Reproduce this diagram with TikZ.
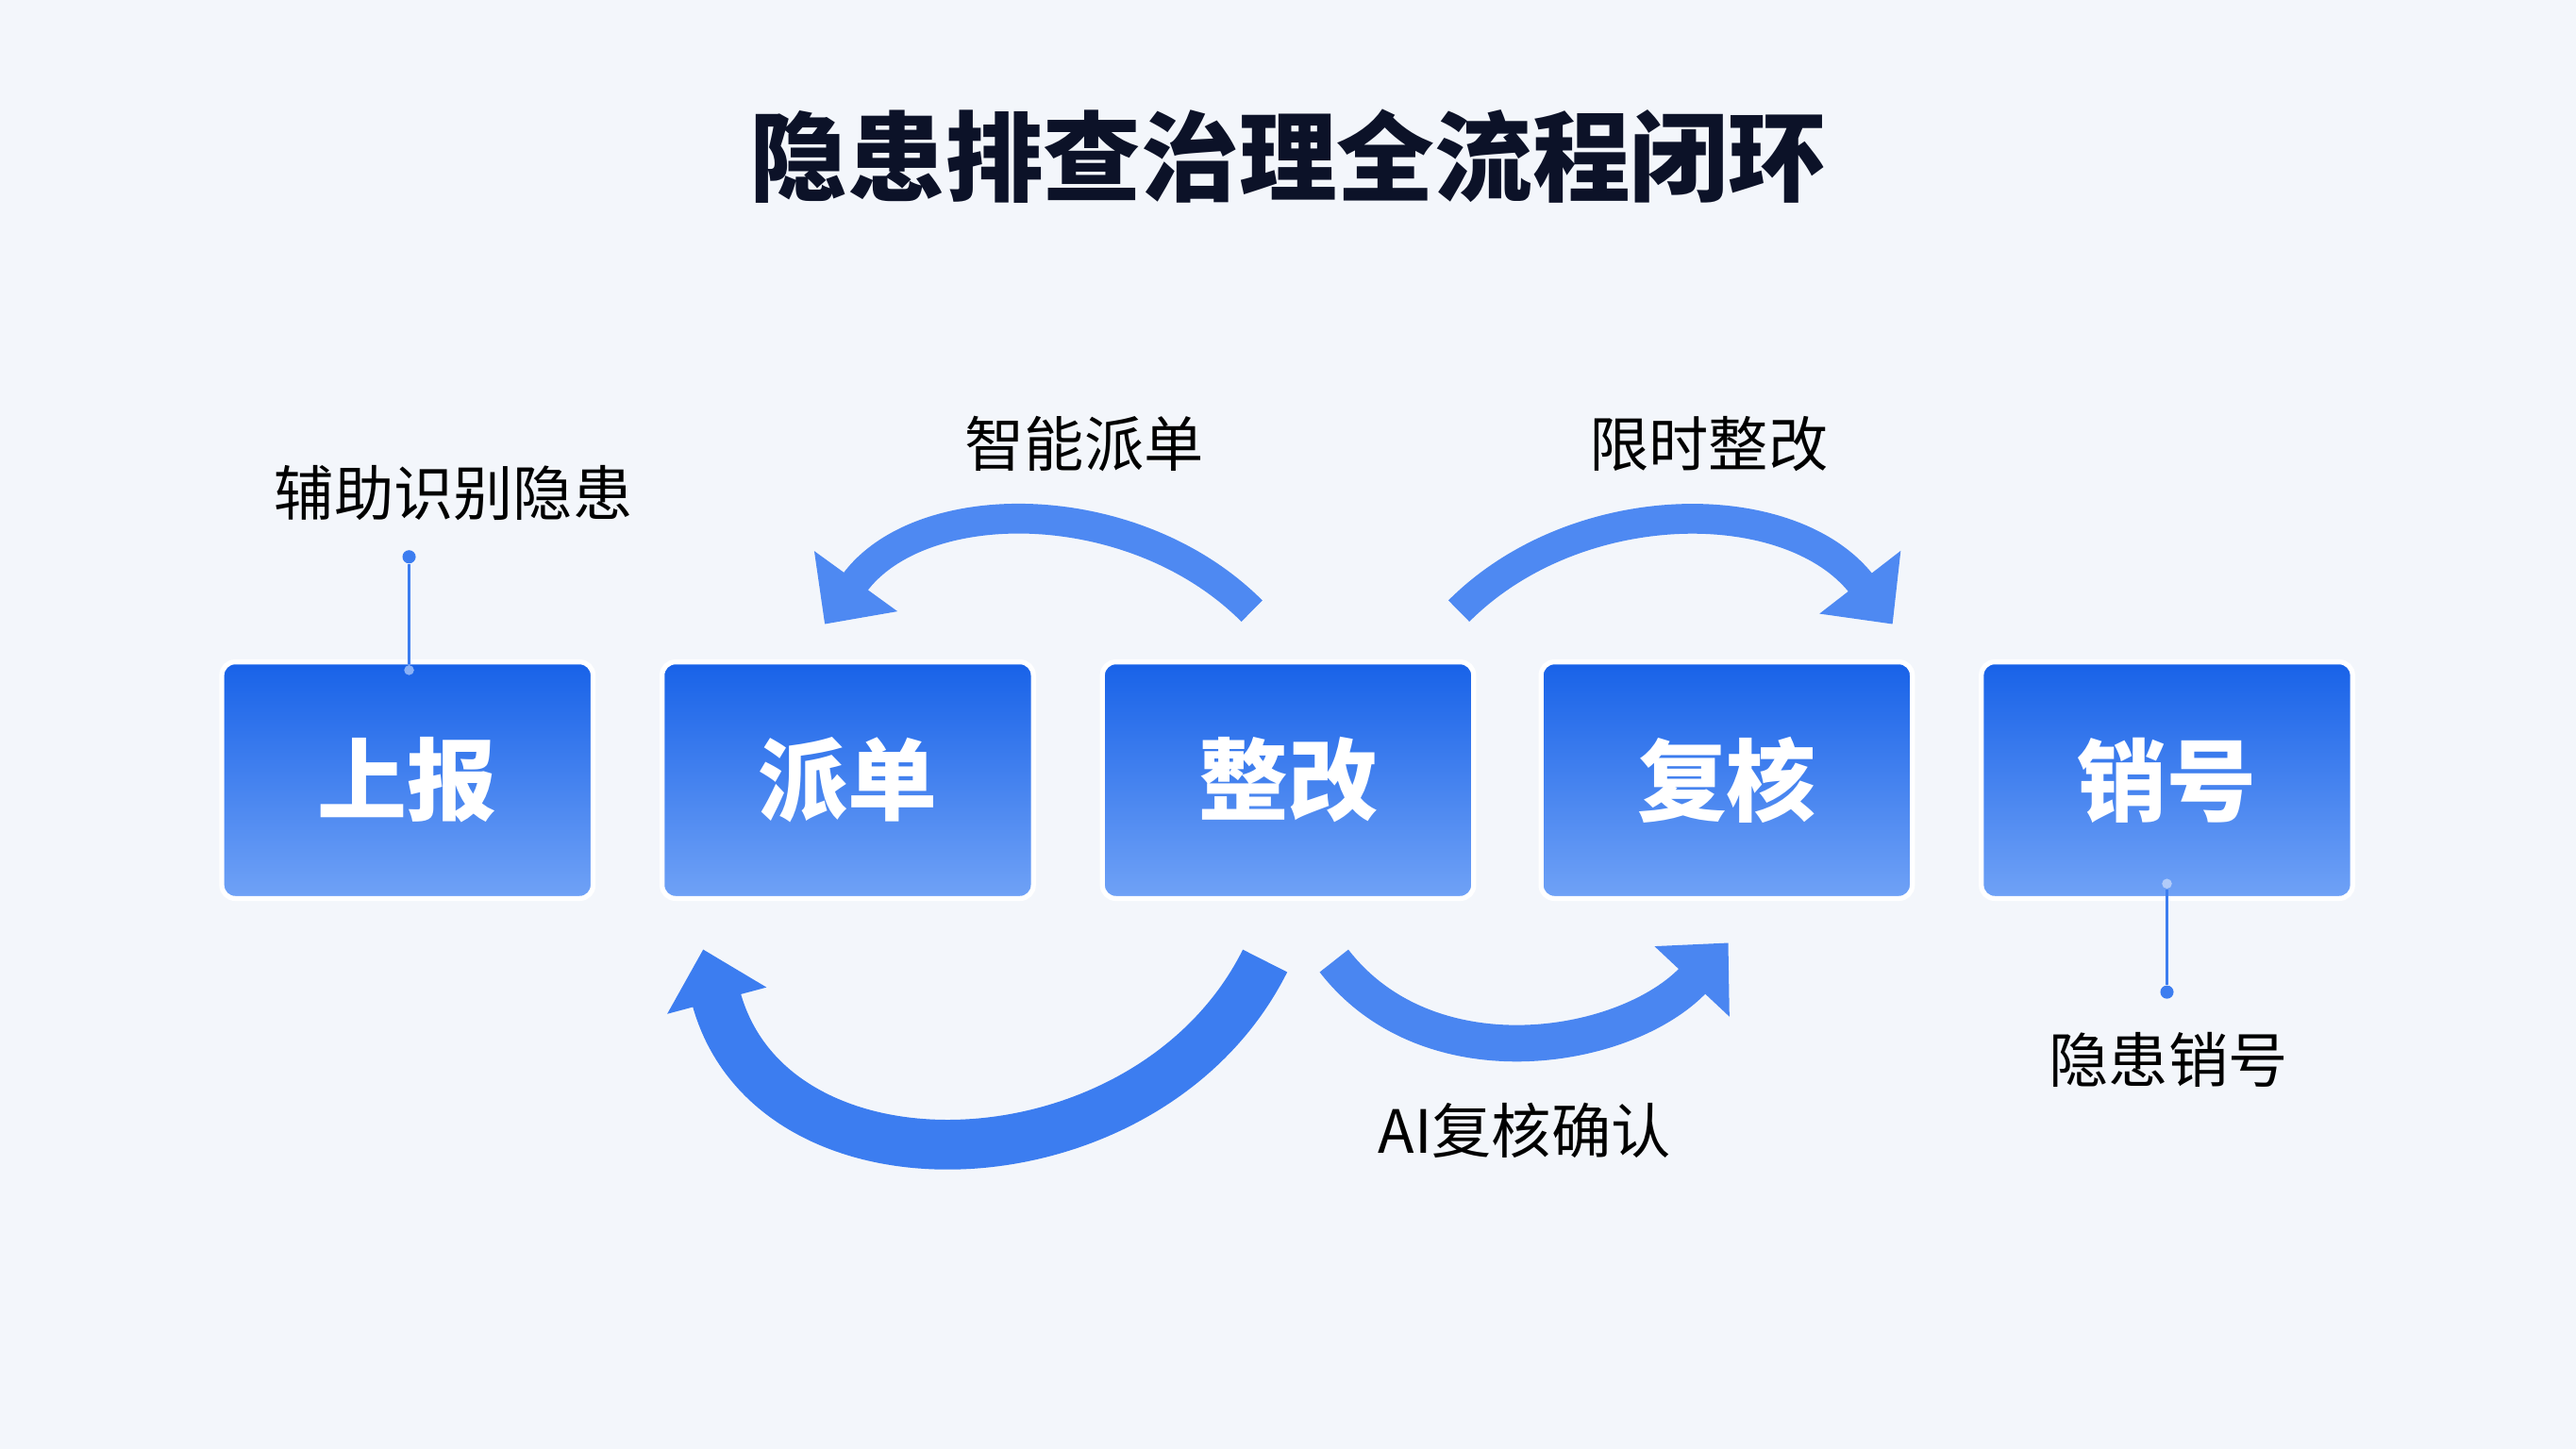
\documentclass[tikz,border=0pt]{standalone}
\usepackage{fontspec}
\setmainfont{Noto Sans CJK SC}
\usetikzlibrary{arrows.meta}
\definecolor{bg}{RGB}{243,246,251}
\definecolor{btop}{RGB}{24,98,232}
\definecolor{bbot}{RGB}{112,162,246}
\definecolor{arr}{RGB}{60,125,240}
\definecolor{arrl}{RGB}{150,185,248}
\definecolor{ttl}{RGB}{12,18,40}
\tikzset{
  box/.style={draw=white, line width=1.5pt, rounded corners=4pt, minimum width=226*0.01741cm, minimum height=144*0.01741cm, top color=btop, bottom color=bbot, text=white, font=\fontsize{27}{30}\selectfont\bfseries, inner sep=0pt},
  lbl/.style={font=\fontsize{18}{20}\selectfont, text=black},
  pin/.style={draw=arr, line width=0.6pt},
  dot/.style={circle, fill=arr, inner sep=0pt, minimum size=4pt},
  flow/.style={line width=#1, color=arr, -{Triangle[length=16pt, width=30pt]}},
}
\begin{document}
\begin{tikzpicture}[x=0.01741cm, y=-0.01741cm]
\fill[bg] (0,0) rectangle (1568,882);
\useasboundingbox (0,0) rectangle (1568,882);
\node[font=\fontsize{29.5}{32}\selectfont\bfseries, text=ttl] (title) at (784,95) {隐患排查治理全流程闭环};
\node[box] (b1) at (248,475) {上报};
\node[box] (b2) at (516,475) {派单};
\node[box] (b3) at (784,475) {整改};
\node[box] (b4) at (1051,475) {复核};
\node[box] (b5) at (1319,475) {销号};
% pins
\node[lbl] (l1) at (276,300) {辅助识别隐患};
\node[dot] (d1) at (249,339) {};
\node[circle, fill=arr!60, inner sep=0pt, minimum size=3pt] (d1b) at (249,408) {};
\draw[pin] (d1) -- (d1b);
\node[lbl] (l5) at (1320,645) {隐患销号};
\node[dot] (d5) at (1319,604) {};
\node[circle, fill=arr!40, inner sep=0pt, minimum size=3pt] (d5b) at (1319,538) {};
\draw[pin] (d5b) -- (d5);
% flow labels
\node[lbl] (l2) at (660,270) {智能派单};
\node[lbl] (l3) at (1040,270) {限时整改};
\node[lbl] (l4) at (928,688) {AI复核确认};
% arrows
\coordinate (a1s) at (762,372); \coordinate (a1e) at (502,380);
\draw[flow=9pt, color=arr!80!arrl] (a1s) .. controls (690,300) and (560,300) .. (a1e);
\coordinate (a2s) at (888,372); \coordinate (a2e) at (1152,380);
\draw[flow=9pt, color=arr!80!arrl] (a2s) .. controls (960,300) and (1090,300) .. (a2e);
\coordinate (a3s) at (770,585); \coordinate (a3e) at (428,578);
\draw[flow=15pt, color=arr] (a3s) .. controls (700,725) and (470,735) .. (a3e);
\coordinate (a4s) at (812,585); \coordinate (a4e) at (1052,574);
\draw[flow=11pt, color=arr!85!arrl] (a4s) .. controls (870,660) and (990,640) .. (a4e);
\end{tikzpicture}
\end{document}
